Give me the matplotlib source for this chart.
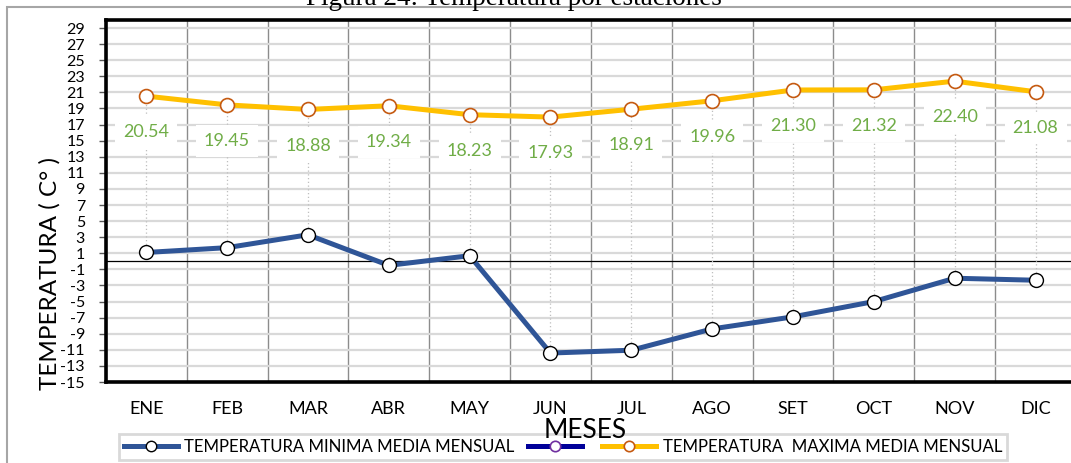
import matplotlib
matplotlib.use("Agg")
import matplotlib.pyplot as plt
from matplotlib.lines import Line2D
from matplotlib.patches import Rectangle
import numpy as np

# Monthly mean temperatures (°C)
months = ["ENE", "FEB", "MAR", "ABR", "MAY", "JUN",
          "JUL", "AGO", "SET", "OCT", "NOV", "DIC"]
t_min = [1.1, 1.7, 3.3, -0.5, 0.7, -11.4, -11.05, -8.4, -6.9, -5.0, -2.1, -2.35]
t_max = [20.54, 19.45, 18.88, 19.34, 18.23, 17.93, 18.91, 19.96, 21.30, 21.32, 22.40, 21.08]
y_ticks = list(range(-15, 30, 2))

label_min = "TEMPERATURA MINIMA MEDIA MENSUAL"
label_max = "TEMPERATURA  MAXIMA MEDIA MENSUAL"

plt.rcParams['font.family'] = ['Lato', 'DejaVu Sans']
plt.rcParams['axes.unicode_minus'] = False

W, H = 1071, 463
fig = plt.figure(figsize=(W / 100, H / 100), dpi=100)


def fx(px):
    return px / W


def fy(py):
    return 1 - py / H


# chart-area frame
fig.patches.append(Rectangle((fx(7), fy(475)), 2.0, fy(7) - fy(475),
                             transform=fig.transFigure, fill=False,
                             edgecolor='#A6A6A6', lw=1.5))

ax = fig.add_axes([fx(105.8), fy(382), (1076 - 105.8) / W, (382 - 20) / H])
x = np.arange(len(months))
ax.set_xlim(-0.5, len(months) - 0.5)
ax.set_ylim(-15, 30)
ax.set_axisbelow(True)

ax.set_yticks(y_ticks)
ax.set_yticklabels([str(v) for v in y_ticks])
ax.set_xticks(x)
ax.set_xticklabels(months)
ax.set_xticks(np.arange(-0.5, len(months), 1), minor=True)

ax.yaxis.grid(True, color='#D9D9D9', lw=1.6)
ax.xaxis.grid(True, which='minor', color='#8C8C8C', lw=1.0)
ax.xaxis.grid(False, which='major')
ax.axhline(0, color='black', lw=0.9, zorder=2)

ax.tick_params(axis='y', length=5, width=1, color='#595959', pad=10,
               labelsize=11.5, labelcolor='black')
ax.tick_params(axis='x', which='both', length=0, pad=14, labelsize=13)

for side in ('top', 'left', 'bottom'):
    ax.spines[side].set_linewidth(2.6)
    ax.spines[side].set_color('black')
ax.spines['right'].set_visible(False)

# high-low lines between the two series
ax.vlines(x, t_min, t_max, colors='#BFBFBF', linestyles=(0, (1, 2)), lw=0.9, zorder=2)

ax.plot(x, t_min, color='#2F5597', lw=3.6, marker='o', ms=10,
        mfc='white', mec='black', mew=1.0, zorder=6)
ax.plot(x, t_max, color='#FFC000', lw=3.6, marker='o', ms=10,
        mfc='white', mec='#C55A11', mew=1.2, zorder=6)

for xi, v in zip(x, t_max):
    ax.annotate(f"{v:.2f}", (xi, v), xytext=(0, -26), textcoords='offset points',
                ha='center', va='center', color='#70AD47', fontsize=13,
                bbox=dict(boxstyle='square,pad=0.45', fc='white', ec='none'),
                zorder=4)

fig.text(fx(514), fy(5), "Figura 24: Temperatura por estaciones",
         family=['Liberation Serif', 'DejaVu Serif'], fontsize=19.5,
         ha='center', va='baseline')

fig.text(fx(50), fy(273), "TEMPERATURA ( C° )", rotation=90,
         ha='center', va='center', fontsize=17.5)

fig.text(fx(585), fy(430), "MESES", ha='center', va='center',
         fontsize=19, zorder=10)

h1 = Line2D([], [], color='#2F5597', lw=3.6, marker='o', ms=7.5,
            mfc='white', mec='black', mew=1.0)
h2 = Line2D([], [], color='#000099', lw=3.6, marker='o', ms=7.5,
            mfc='white', mec='#7030A0', mew=1.2)
h3 = Line2D([], [], color='#FFC000', lw=3.6, marker='o', ms=7.5,
            mfc='white', mec='#C55A11', mew=1.2)
leg = fig.legend([h1, h2, h3], [label_min, '', label_max],
                 loc='center', bbox_to_anchor=(fx(563), fy(447)), ncol=3,
                 frameon=True, fancybox=False, edgecolor='#D9D9D9',
                 fontsize=12.1, handlelength=3.2, handletextpad=0.4,
                 columnspacing=0.8, borderpad=0.3, framealpha=1)
leg.get_frame().set_linewidth(2)
leg.set_zorder(5)

fig.savefig("out.png", dpi=100)
